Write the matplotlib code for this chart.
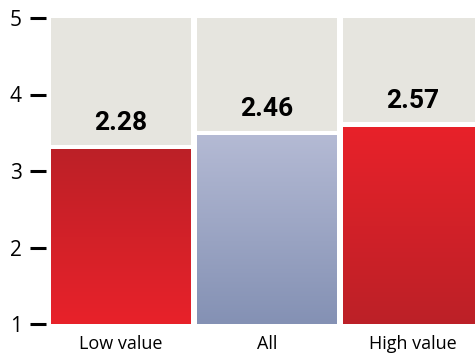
import numpy as np
import matplotlib
matplotlib.use("Agg")
import matplotlib.pyplot as plt
from matplotlib.colors import LinearSegmentedColormap

categories = ["Low value", "All", "High value"]
values = [2.28, 2.46, 2.57]
top_colors = ["#BC2027", "#B4BAD4", "#E8222A"]
bottom_colors = ["#E8222A", "#8491B4", "#BC2027"]
yticks = [1, 2, 3, 4, 5]

fig = plt.figure(figsize=(4.75, 3.54), dpi=100)
W, H = 475, 354
ax = fig.add_axes([46 / W, (354 - 324) / H, (475 - 46) / W, (324 - 18) / H])

base = 1.0
width = 140 / 146
gap = 5 / 76.5
grey = "#E6E5DF"

x = np.arange(len(categories))
xl = -width / 2 - 5 / 146

grad = np.linspace(0, 1, 256).reshape(-1, 1)
for i, v in enumerate(values):
    top = base + v
    x0, x1 = x[i] - width / 2, x[i] + width / 2
    cmap = LinearSegmentedColormap.from_list(f"c{i}", [bottom_colors[i], top_colors[i]])
    ax.imshow(grad, extent=(x0, x1, base, top), origin="lower", aspect="auto",
              cmap=cmap, zorder=2, interpolation="bilinear")
    ax.bar(x[i], 5 - (top + gap), bottom=top + gap, width=width, color=grey, zorder=1)
    ax.annotate(f"{v:.2f}", (x[i], top), xytext=(0, 19), textcoords="offset points",
                ha="center", va="center", fontsize=19, fontweight="bold",
                family="Roboto", zorder=3)

ax.set_xlim(xl, xl + (475 - 46) / 146)
ax.set_ylim(1, 5)
for s in ax.spines.values():
    s.set_visible(False)
ax.set_yticks(yticks)
ax.set_yticklabels([str(t) for t in yticks], fontsize=15, family="Open Sans")
ax.tick_params(axis="y", length=11.5, width=2.2, color="black", pad=6)
ax.set_xticks(x)
ax.set_xticklabels(categories, fontsize=13, family="Open Sans")
ax.tick_params(axis="x", length=0, pad=8)

fig.savefig("out.png", dpi=100)
